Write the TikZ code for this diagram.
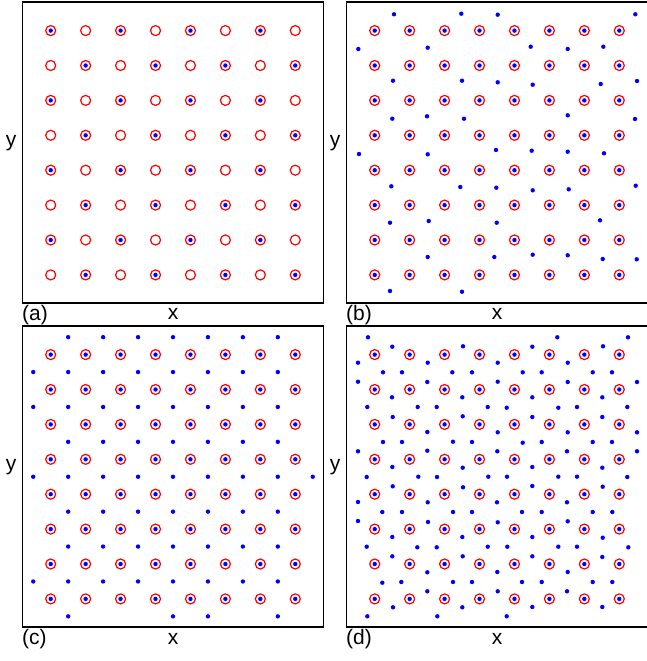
\documentclass[tikz,border=0pt]{standalone}
\usepackage{fontspec}
\setmainfont{Liberation Sans}
\begin{document}
\begin{tikzpicture}[x=1pt,y=-1pt,
  frame/.style={draw=black,line width=1.1pt},
  ring/.style={draw=red,line width=1.2pt},
  dot/.style={fill=blue},
  lbl/.style={inner sep=0pt,font=\fontsize{21}{25}\selectfont}]
\useasboundingbox[fill=white] (0,0) rectangle (646,661);
% frames
\draw[frame] (22.5,2) rectangle (323.5,303);
\draw[frame] (346.5,2) rectangle (647.5,303);
\draw[frame] (22.5,326) rectangle (323.5,627);
\draw[frame] (346.5,326) rectangle (647.5,627);
% rings: all panels
\foreach \ox/\oy in {0/0,324/0,0/324,324/324}{
  \foreach \i in {0,...,7}{
    \foreach \j in {0,...,7}{
      \draw[ring] ({50.7+\ox+34.94*\i},{30.6+\oy+34.9*\j}) circle[radius=5];
    }
  }
}
% panel (a): dots on checkerboard
\foreach \i in {0,...,7}{
  \foreach \j in {0,...,7}{
    \pgfmathtruncatemacro{\myparity}{mod(\i+\j,2)}
    \ifnum\myparity=0
      \fill[dot] ({50.7+34.94*\i},{30.6+34.9*\j}) circle[radius=2.2];
    \fi
  }
}
% panels (b),(c),(d): dots at every ring centre
\foreach \ox/\oy in {324/0,0/324,324/324}{
  \foreach \i in {0,...,7}{
    \foreach \j in {0,...,7}{
      \fill[dot] ({50.7+\ox+34.94*\i},{30.6+\oy+34.9*\j}) circle[radius=2.2];
    }
  }
}
% panel (b): extra dots
\foreach \p in {(394,14.3),(461.3,13.7),(497.7,14.7),(635.3,14.3),
(358.3,49),(427.7,47.7),(530.7,46.7),(567.7,49),(603.3,46.7),
(393,80.7),(462,80.7),(497.7,82.3),(532.7,84.7),(600.7,84),(637,81),
(392.3,118.7),(427,116.3),(464,118.7),(567.7,115.3),(635,119),
(359,154),(427.7,154.3),(496,150),(531.7,150.7),(567.7,151.7),(604,153.3),
(391.3,186.3),(460.3,187),(496.3,187.7),(532.7,190.3),(568.7,189.3),(635.7,185.7),
(390,222.7),(428.7,221),(496.7,222.7),(600,220.3),
(427.7,257),(494.3,257),(532.7,254.7),(567.7,255.3),(602.7,259),(636.7,259.3),
(390,291),(462,291.7)}{
  \fill[dot] \p circle[radius=2.2];
}
% panel (c): interstitial lattice dots
\foreach \j/\ks in {0/{1,2,3,4,5,6,7},1/{0,1,2,3,4,5,6,7},2/{0,1,2,3,4,5,6,7},
  3/{1,2,3,4,5,6,7},4/{0,1,2,3,4,5,6,7,8},5/{1,2,3,4,5,6,7},6/{1,2,3,4,5,6,7},
  7/{0,1,2,3,4,5,6,7},8/{1,4,5,7}}{
  \foreach \k in \ks{
    \fill[dot] ({33.23+34.94*\k},{337.15+34.9*\j}) circle[radius=2.2];
  }
}
% panel (d): extra dots
\foreach \p in {(368,337.3),(557.3,337.3),(628,337.3),
(392.3,346.7),(463,346.3),(532.3,346.7),(603,346.3),
(358,362.7),(427.7,362.7),(497.7,362.7),(567.7,362.7),
(383,372.3),(402,372.3),(452.3,372.3),(472,372.3),(522.7,372.3),(541.7,372.3),(592.7,372.3),(612,372.3),
(358,381.7),(427.3,382),(497.7,381.7),(567.7,382),(637,382),
(392,397.3),(462.3,397.3),(532.3,397.3),(602.3,397.3),
(367.3,407),(417.7,407),(436.7,407),(487.7,407),(506.7,407.7),(558.3,407.7),(577,407),(627.3,407),
(392.7,417),(462.7,416.3),(532.3,417),(602.3,417),
(427.3,432),(497.7,432.3),(567.7,432.3),(637,432.3),
(383,442),(402,442),(453,441.7),(472,442),(522.7,442.7),(541.7,442),(592.7,442),(612,442),
(358,451.3),(427.3,450.7),(497.3,451.3),(567,451.3),(637,451.3),
(392.3,467),(462.7,467.7),(532.3,467),(602.3,467.7),
(366.7,477),(418.3,476.7),(437,477),(488.3,476.7),(507,476.7),(558.3,476.7),(577,476.7),(627.3,477),
(392.7,486.3),(463,487.3),(532.3,486),(602.7,486.7),
(358,502),(427.7,502.3),(497,502.3),(567,502.3),
(382.3,512),(402,512),(453,512),(472,512),(522,512),(541.7,512),(592.7,512),(612.3,512),
(358,521),(428,522),(497.7,522.3),(567.7,521.3),
(392.3,537),(462.3,537),(532.3,537),(602.7,537.7),
(366.7,546.7),(417.3,547.3),(436.7,547.3),(487.7,546.7),(507.3,546.7),(558.3,546.7),(577,546.7),(628.3,547.3),
(392.3,556.3),(462.7,556.3),(532.3,556.3),(602.3,557),
(427.3,572.3),(497.3,572),(567.7,572),
(382.3,582.7),(401.3,582),(453,582),(472,582),(522,582),(541.7,582),(592.7,582),(612.3,582),
(427.3,591.3),(497.7,591.3),(567,591.3),
(393,607.3),(462.3,607.3),(532.3,607),(602.3,607),
(367.3,616.3),(437.3,616.3),(506.7,616.3)}{
  \fill[dot] \p circle[radius=2.2];
}
% labels
\node[lbl,anchor=base west] (la) at (22,320) {(a)};
\node[lbl,anchor=base] (xa) at (173,319.5) {x};
\node[lbl,anchor=base] (ya) at (11,146.5) {y};
\node[lbl,anchor=base west] (lb) at (346,320) {(b)};
\node[lbl,anchor=base] (xb) at (497,319.5) {x};
\node[lbl,anchor=base] (yb) at (335,146.5) {y};
\node[lbl,anchor=base west] (lc) at (22,644) {(c)};
\node[lbl,anchor=base] (xc) at (173,644) {x};
\node[lbl,anchor=base] (yc) at (11,470.5) {y};
\node[lbl,anchor=base west] (ld) at (346,644) {(d)};
\node[lbl,anchor=base] (xd) at (497,644) {x};
\node[lbl,anchor=base] (yd) at (335,470.5) {y};
\end{tikzpicture}
\end{document}
